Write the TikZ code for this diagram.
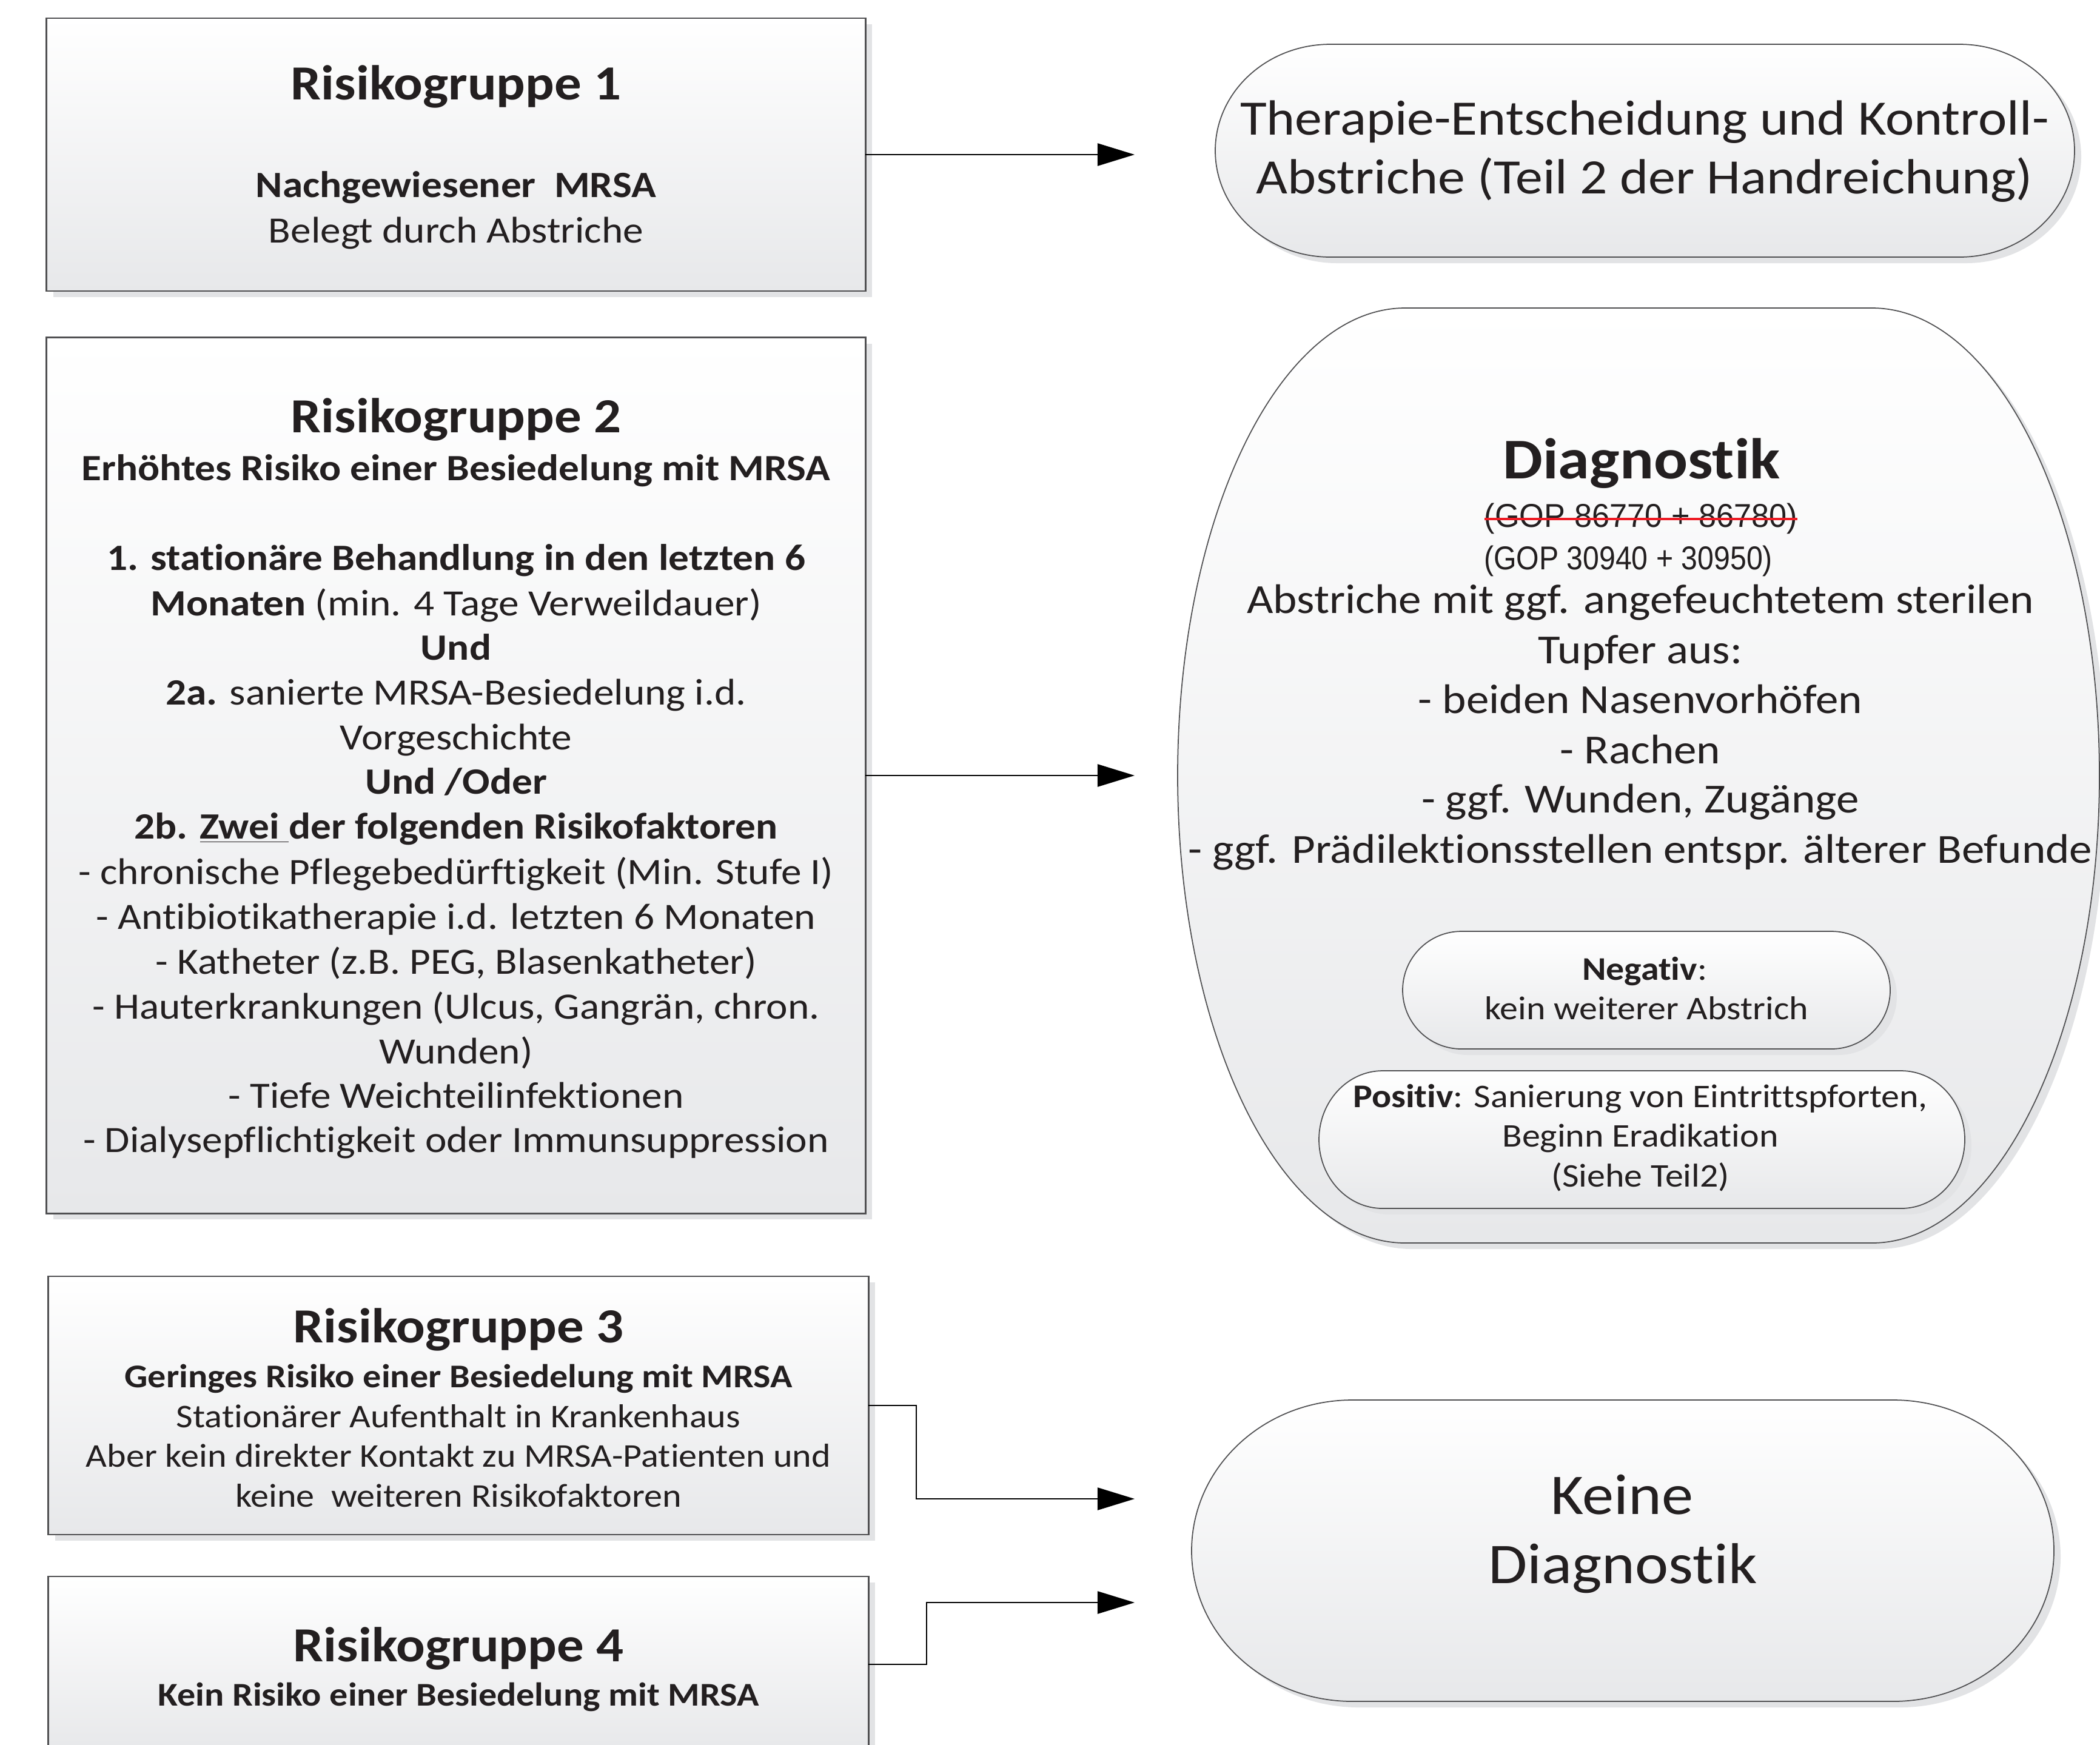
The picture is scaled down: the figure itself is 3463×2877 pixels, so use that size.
\documentclass[tikz,border=0pt]{standalone}
\usepackage{fontspec}
\setmainfont{Carlito}[FakeStretch=1.1, Ligatures={NoCommon}]
\newfontfamily\arialold{Liberation Sans}[FakeStretch=0.96]
\newfontfamily\arialnew{Liberation Sans}[FakeStretch=0.885]
\usetikzlibrary{arrows.meta,shadows}
\definecolor{txt}{HTML}{231F20}
\definecolor{bd}{HTML}{505052}
\definecolor{gy}{HTML}{E7E8EA}
\definecolor{shd}{HTML}{E2E3E5}
\definecolor{strk}{HTML}{EE1C25}
\newcommand\capsule[6]{%
 \pgfmathsetmacro\kpL{#2-#4/2}%
 \pgfmathsetmacro\kpR{#2+#4/2}%
 \pgfmathsetmacro\kpT{#3-#5/2}%
 \pgfmathsetmacro\kpB{#3+#5/2}%
 \pgfmathsetmacro\kpA{\kpL+#6}%
 \pgfmathsetmacro\kpC{\kpR-#6}%
 \pgfmathsetmacro\kpX{0.5523*#6}%
 \pgfmathsetmacro\kpY{0.5523*#5/2}%
 \path[capst] (\kpA,\kpT) -- (\kpC,\kpT)
   .. controls (\kpC+\kpX,\kpT) and (\kpR,#3-\kpY) .. (\kpR,#3)
   .. controls (\kpR,#3+\kpY) and (\kpC+\kpX,\kpB) .. (\kpC,\kpB)
   -- (\kpA,\kpB)
   .. controls (\kpA-\kpX,\kpB) and (\kpL,#3+\kpY) .. (\kpL,#3)
   .. controls (\kpL,#3-\kpY) and (\kpA-\kpX,\kpT) .. (\kpA,\kpT) -- cycle;
 \node[inner sep=0pt, outer sep=0pt, minimum width=#4*0.01cm, minimum height=#5*0.01cm] (#1) at (#2,#3) {};
}
\begin{document}
\begin{tikzpicture}[x=0.01cm,y=-0.01cm,
  shadowed/.style={drop shadow={shadow xshift=0.11cm, shadow yshift=-0.10cm, opacity=1, fill=shd}},
  boxst/.style={shadowed, draw=bd, line width=0.65pt, top color=white, bottom color=gy, inner sep=0pt, outer sep=0pt},
  capst/.style={shadowed, draw=bd, line width=0.5pt, top color=white, bottom color=gy},
  conn/.style={draw=black, line width=0.6pt, -{Triangle[length=0.61cm, width=0.37cm]}},
  tl/.style={anchor=base, inner sep=0pt, outer sep=0pt, text=txt},
  ttl/.style={tl, font=\fontsize{23}{28}\selectfont\bfseries},
  bonet/.style={tl, font=\fontsize{17.4}{21}\selectfont},
  bonebf/.style={tl, font=\fontsize{17.4}{21}\selectfont\bfseries},
  btwot/.style={tl, font=\fontsize{17.4}{21}\selectfont},
  btwobf/.style={tl, font=\fontsize{17.4}{21}\selectfont\bfseries},
  bthreet/.style={tl, font=\fontsize{15.55}{19}\selectfont},
  bthreebf/.style={tl, font=\fontsize{15.55}{19}\selectfont\bfseries},
  dgtitle/.style={tl, font=\fontsize{27}{32}\selectfont\bfseries},
  dgt/.style={tl, font=\fontsize{19.4}{23}\selectfont},
  gopold/.style={tl, font=\fontsize{15.5}{18}\arialold},
  gopnew/.style={tl, font=\fontsize{15.5}{18}\arialnew},
  npt/.style={tl, font=\fontsize{15.5}{19}\selectfont},
  tht/.style={tl, font=\fontsize{23.2}{28}\selectfont},
  kdt/.style={tl, font=\fontsize{27}{32}\selectfont}]
\useasboundingbox (0,0) rectangle (3463,2877);
\clip (0,0) rectangle (3463,2877);

% left boxes
\node[boxst, minimum width=13.50cm, minimum height=4.50cm] (r1) at (752,255) {};
\node[boxst, minimum width=13.50cm, minimum height=14.44cm] (r2) at (752,1279) {};
\node[boxst, minimum width=13.52cm, minimum height=4.26cm] (r3) at (756,2318) {};
\node[boxst, minimum width=13.52cm, minimum height=2.90cm] (r4) at (756,2745) {};

% right shapes
\capsule{th}{2712.5}{248.5}{1417}{351}{190}
\capsule{dg}{2702}{1279}{1520}{1542}{375}
\capsule{ng}{2715}{1633}{804}{194}{97}
\capsule{ps}{2707.5}{1879.5}{1065}{227}{105}
\capsule{kd}{2676}{2557.5}{1422}{497}{265}

% box 1 text
\node[ttl] (t1a) at (752,164) {Risikogruppe 1};
\node[bonebf] (t1b) at (752,325) {Nachgewiesener\ \ MRSA};
\node[bonet] (t1c) at (752,400) {Belegt durch Abstriche};

% box 2 text
\node[ttl] (t2a) at (752,713) {Risikogruppe 2};
\node[btwobf] (t2b) at (752,792) {Erhöhtes Risiko einer Besiedelung mit MRSA};
\node[btwobf] (t2c) at (752,940) {1. stationäre Behandlung in den letzten 6};
\node[btwot] (t2d) at (752,1015) {\textbf{Monaten} (min. 4 Tage Verweildauer)};
\node[btwobf] (t2e) at (752,1088) {Und};
\node[btwot] (t2f) at (752,1162) {\textbf{2a.} sanierte MRSA-Besiedelung i.d.};
\node[btwot] (t2g) at (752,1236) {Vorgeschichte};
\node[btwobf] (t2h) at (752,1309) {Und /Oder};
\node[btwobf] (t2i) at (752,1383) {2b. \underline{Zwei }der folgenden Risikofaktoren};
\node[btwot] (t2j) at (752,1458) {- chronische Pflegebedürftigkeit (Min. Stufe I)};
\node[btwot] (t2k) at (752,1532) {- Antibiotikatherapie i.d. letzten 6 Monaten};
\node[btwot] (t2l) at (752,1606) {- Katheter (z.B. PEG, Blasenkatheter)};
\node[btwot] (t2m) at (752,1680) {- Hauterkrankungen (Ulcus, Gangrän, chron.};
\node[btwot] (t2n) at (752,1754) {Wunden)};
\node[btwot] (t2o) at (752,1827) {- Tiefe Weichteilinfektionen};
\node[btwot] (t2p) at (752,1900) {- Dialysepflichtigkeit oder Immunsuppression};

% box 3 text
\node[ttl] (t3a) at (756,2214) {Risikogruppe 3};
\node[bthreebf] (t3b) at (756,2288) {Geringes Risiko einer Besiedelung mit MRSA};
\node[bthreet] (t3c) at (756,2354) {Stationärer Aufenthalt in Krankenhaus};
\node[bthreet] (t3d) at (756,2419) {Aber kein direkter Kontakt zu MRSA-Patienten und};
\node[bthreet] (t3e) at (756,2485) {keine\ \ weiteren Risikofaktoren};

% box 4 text
\node[ttl] (t4a) at (756,2740) {Risikogruppe 4};
\node[bthreebf] (t4b) at (756,2813) {Kein Risiko einer Besiedelung mit MRSA};

% therapy text
\node[tht] (tha) at (2712,222) {Therapie-Entscheidung und Kontroll-};
\node[tht] (thb) at (2712,319) {Abstriche (Teil 2 der Handreichung)};

% diagnostik text
\node[dgtitle] (dga) at (2707,789) {Diagnostik};
\node[gopold] (dgb) at (2706,869) {(GOP 86770 + 86780)};
\draw[strk, line width=1.1pt] ([yshift=0.13cm]dgb.base west) -- ([yshift=0.13cm]dgb.base east);
\node[gopnew] (dgc) at (2685,939) {(GOP 30940 + 30950)};
\node[dgt] (dgd) at (2705,1011) {Abstriche mit ggf. angefeuchtetem sterilen};
\node[dgt] (dge) at (2705,1094) {Tupfer aus:};
\node[dgt] (dgf) at (2705,1176) {- beiden Nasenvorhöfen};
\node[dgt] (dgg) at (2705,1259) {- Rachen};
\node[dgt] (dgh) at (2705,1340) {- ggf. Wunden, Zugänge};
\node[dgt] (dgi) at (2705,1423) {- ggf. Prädilektionsstellen entspr. älterer Befunde};

% negativ / positiv
\node[npt] (nga) at (2712,1616) {\textbf{Negativ}:};
\node[npt] (ngb) at (2715,1681) {kein weiterer Abstrich};
\node[npt] (psa) at (2705,1826) {\textbf{Positiv}: Sanierung von Eintrittspforten,};
\node[npt] (psb) at (2705,1891) {Beginn Eradikation};
\node[npt] (psc) at (2705,1957) {(Siehe Teil2)};

% keine diagnostik
\node[kdt] (kda) at (2675,2497) {Keine};
\node[kdt] (kdb) at (2676,2611) {Diagnostik};

% connectors
\coordinate (a1) at (1871,255);
\coordinate (a2) at (1871,1279);
\coordinate (a3) at (1871,2472);
\coordinate (a4) at (1871,2643);
\draw[conn] (r1.east) -- (a1);
\draw[conn] (r2.east) -- (a2);
\draw[conn] (r3.east) -- ++(79,0) |- (a3);
\draw[conn] (r4.east) -- ++(96,0) |- (a4);
\end{tikzpicture}
\end{document}
